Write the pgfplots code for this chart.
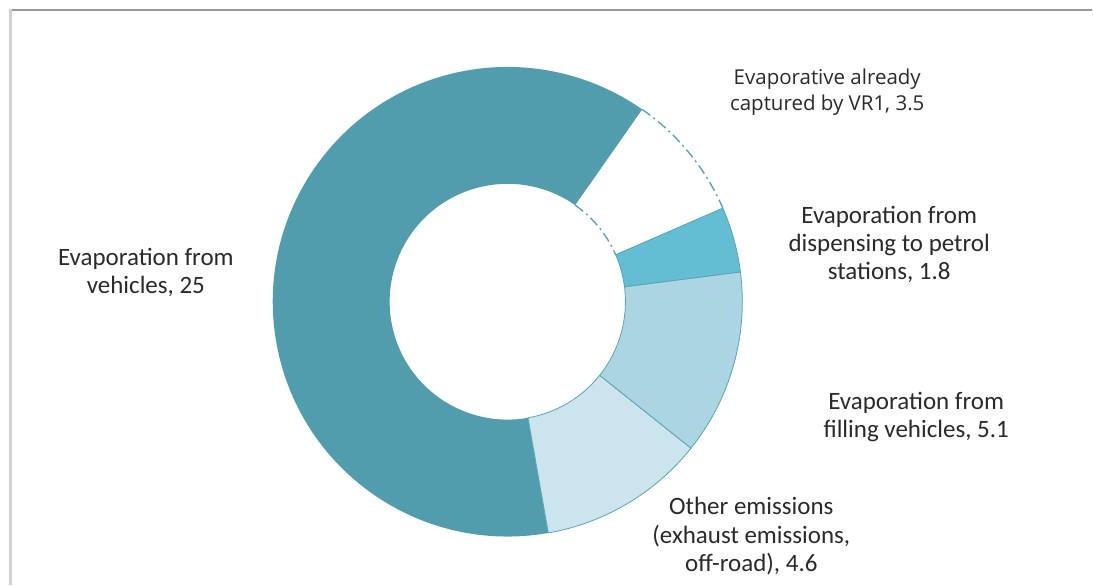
\documentclass[border=0pt]{standalone}
\usepackage{pgfplots}
\pgfplotsset{compat=1.18}
\usepackage{fontspec}
\setmainfont{Carlito}
\newfontfamily\vrfont{Open Sans}
\definecolor{cVeh}{HTML}{519DAD}
\definecolor{cDisp}{HTML}{63BED4}
\definecolor{cFill}{HTML}{ABD5E2}
\definecolor{cOther}{HTML}{CCE4ED}
\definecolor{cEdge}{HTML}{5AA3B3}
\definecolor{cText}{HTML}{2A2A2A}
% data (share of total, total = 40)
\def\vVR{3.5}
\def\vDisp{1.8}
\def\vFill{5.1}
\def\vOther{4.6}
\def\vVeh{25}
\begin{document}
\begin{tikzpicture}
\pgfmathsetmacro\tot{\vVR+\vDisp+\vFill+\vOther+\vVeh}
\pgfmathsetmacro\aO{55}
\pgfmathsetmacro\aA{\aO-360*\vVR/\tot}
\pgfmathsetmacro\aB{\aA-360*\vDisp/\tot}
\pgfmathsetmacro\aC{\aB-360*\vFill/\tot}
\pgfmathsetmacro\aD{\aC-360*\vOther/\tot}
\pgfmathsetmacro\aE{\aD-360*\vVeh/\tot}
\def\Ro{235pt}
\def\Ri{118pt}
\begin{axis}[
  scale only axis, width=1093pt, height=586pt,
  xmin=0, xmax=1093, ymin=0, ymax=586,
  enlargelimits=false, hide axis, clip=false,
]
\path (axis cs:0,0) rectangle (axis cs:1093,586);
\draw[draw=black!40, line width=2pt] (axis cs:10,576) -- (axis cs:1093,576);
\draw[draw=black!18, line width=3pt] (axis cs:10.5,577) -- (axis cs:10.5,0);
\coordinate (C) at (axis cs:508,284);
% vehicles
\fill[cVeh] ([shift={(C)}]\aD:\Ro) arc[start angle=\aD, end angle=\aE, radius=\Ro]
  -- ([shift={(C)}]\aE:\Ri) arc[start angle=\aE, end angle=\aD, radius=\Ri] -- cycle;
% other
\filldraw[fill=cOther, draw=cEdge, line width=0.8pt] ([shift={(C)}]\aC:\Ro) arc[start angle=\aC, end angle=\aD, radius=\Ro]
  -- ([shift={(C)}]\aD:\Ri) arc[start angle=\aD, end angle=\aC, radius=\Ri] -- cycle;
% filling
\filldraw[fill=cFill, draw=cEdge, line width=0.8pt] ([shift={(C)}]\aB:\Ro) arc[start angle=\aB, end angle=\aC, radius=\Ro]
  -- ([shift={(C)}]\aC:\Ri) arc[start angle=\aC, end angle=\aB, radius=\Ri] -- cycle;
% dispensing
\filldraw[fill=cDisp, draw=cEdge, line width=0.8pt] ([shift={(C)}]\aA:\Ro) arc[start angle=\aA, end angle=\aB, radius=\Ro]
  -- ([shift={(C)}]\aB:\Ri) arc[start angle=\aB, end angle=\aA, radius=\Ri] -- cycle;
% VR1 (white, dash-dot outline)
\draw[cEdge, line width=1.4pt, dash pattern=on 10pt off 4pt on 2pt off 4pt] ([shift={(C)}]\aO:\Ro) arc[start angle=\aO, end angle=\aA, radius=\Ro];
\draw[cEdge, line width=1.4pt, dash pattern=on 10pt off 4pt on 2pt off 4pt] ([shift={(C)}]\aO:\Ri) arc[start angle=\aO, end angle=\aA, radius=\Ri];
% labels
\node[align=center, text=cText, font=\fontsize{25}{28}\selectfont] at (axis cs:146,313) {Evaporation from\\vehicles, 25};
\node[align=center, text=cText, font=\vrfont\fontsize{20.5}{26}\selectfont] at (axis cs:828,494) {Evaporative already\\captured by VR1, 3.5};
\node[align=center, text=cText, font=\fontsize{25}{28}\selectfont] at (axis cs:890,341) {Evaporation from\\dispensing to petrol\\stations, 1.8};
\node[align=center, text=cText, font=\fontsize{25}{28}\selectfont] at (axis cs:917,169) {Evaporation from\\filling vehicles, 5.1};
\node[align=center, text=cText, font=\fontsize{25}{28.5}\selectfont] at (axis cs:752,49) {Other emissions\\(exhaust emissions,\\off-road), 4.6};
\end{axis}
\end{tikzpicture}
\end{document}
